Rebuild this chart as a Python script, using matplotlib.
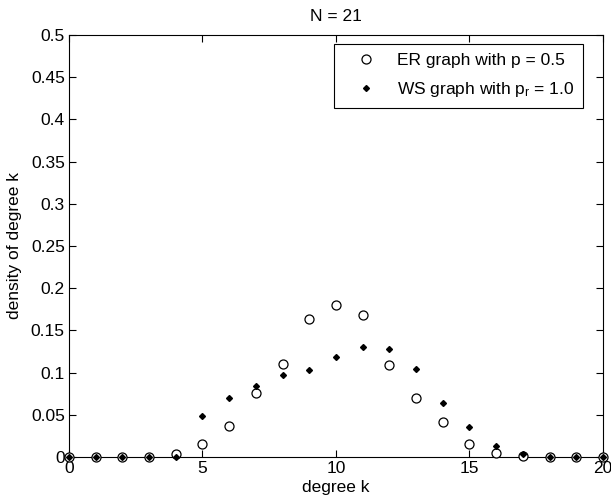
import matplotlib
matplotlib.use("Agg")
import matplotlib.pyplot as plt

k = list(range(21))

er_density = [0, 0, 0, 0, 0.004, 0.0154, 0.037, 0.076, 0.110, 0.164, 0.180,
              0.1686, 0.109, 0.0695, 0.0418, 0.0154, 0.005, 0.001, 0, 0, 0]
ws_density = [0, 0, 0, 0, 0, 0.049, 0.0695, 0.0845, 0.097, 0.103, 0.119,
              0.1307, 0.1276, 0.104, 0.0636, 0.036, 0.013, 0.004, 0, 0, 0]

x_ticks = [0, 5, 10, 15, 20]
y_ticks = [0, 0.05, 0.1, 0.15, 0.2, 0.25, 0.3, 0.35, 0.4, 0.45, 0.5]
y_tick_labels = ["0", "0.05", "0.1", "0.15", "0.2", "0.25", "0.3", "0.35",
                 "0.4", "0.45", "0.5"]

plt.rcParams["font.family"] = ["Liberation Sans", "DejaVu Sans"]
plt.rcParams["font.size"] = 12.5
plt.rcParams["mathtext.default"] = "regular"

fig = plt.figure(figsize=(6.11, 5.04), dpi=100)
ax = fig.add_axes([0.1129, 0.0933, 0.874, 0.8373])

ax.plot(k, er_density, linestyle="none", marker="o", markersize=6.5,
        markerfacecolor="white", markeredgecolor="black", markeredgewidth=0.9,
        clip_on=False, zorder=3, label="ER graph with p = 0.5")
ax.plot(k, ws_density, linestyle="none", marker="D", markersize=3,
        color="black", clip_on=False, zorder=4,
        label="WS graph with p$_r$ = 1.0")

ax.set_xlim(0, 20)
ax.set_ylim(0, 0.5)
ax.set_xticks(x_ticks)
ax.set_yticks(y_ticks)
ax.set_yticklabels(y_tick_labels)
ax.tick_params(direction="in", top=True, right=True, length=5, width=0.8,
               colors="black", labelsize=12.5, pad=3)
for s in ax.spines.values():
    s.set_linewidth(0.8)

ax.set_title("N = 21", fontsize=12.5, pad=10)
ax.set_xlabel("degree k", fontsize=12.5, labelpad=3)
ax.set_ylabel("density of degree k", fontsize=12.5, labelpad=6)

leg = ax.legend(loc="upper right", bbox_to_anchor=(0.9625, 0.9787),
                borderaxespad=0, fancybox=False, edgecolor="black",
                framealpha=1, fontsize=12.5, handlelength=2.6,
                handletextpad=0.5, borderpad=0.5, labelspacing=0.7)
leg.get_frame().set_linewidth(0.8)

fig.savefig("out.png", dpi=100)
